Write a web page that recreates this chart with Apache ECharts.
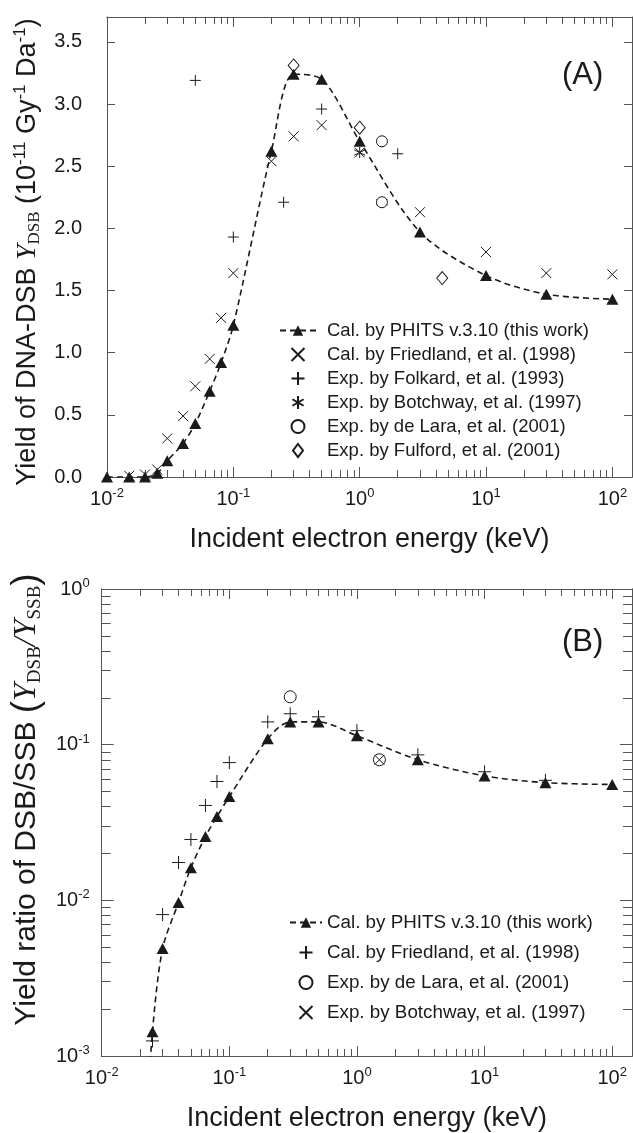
<!DOCTYPE html>
<html>
<head>
<meta charset="utf-8">
<script src="https://cdn.jsdelivr.net/npm/echarts@6/dist/echarts.min.js"></script>
<style>
  html, body { margin: 0; padding: 0; background: #fff; }
  #chart { width: 633px; height: 1133px; }
</style>
</head>
<body>
<div id="chart"></div>
<script>
// panel (A): yield of DNA-DSB, 10^-11 Gy^-1 Da^-1
var phitsEnergyA = [0.01, 0.015, 0.02, 0.025, 0.03, 0.04, 0.05, 0.065, 0.08, 0.1, 0.2, 0.3, 0.5, 1, 3, 10, 30, 100];
var phitsYieldA = [0, 0, 0, 0.03, 0.13, 0.27, 0.43, 0.69, 0.92, 1.22, 2.62, 3.24, 3.20, 2.70, 1.97, 1.62, 1.47, 1.43];
var friedlandEnergyA = [0.015, 0.02, 0.025, 0.03, 0.04, 0.05, 0.065, 0.08, 0.1, 0.2, 0.3, 0.5, 1, 3, 10, 30, 100];
var friedlandYieldA = [0.01, 0.02, 0.06, 0.31, 0.49, 0.73, 0.95, 1.28, 1.64, 2.54, 2.74, 2.83, 2.61, 2.13, 1.81, 1.64, 1.63];
var folkardEnergyA = [0.05, 0.1, 0.25, 0.5, 1.5, 2];
var folkardYieldA = [3.19, 1.93, 2.21, 2.96, 2.70, 2.60];
var botchwayEnergyA = [1, 1.5];
var botchwayYieldA = [2.61, 2.21];
var delaraEnergyA = [1.5, 1.5];
var delaraYieldA = [2.70, 2.21];
var fulfordEnergyA = [0.3, 1, 4.5];
var fulfordYieldA = [3.31, 2.81, 1.60];

// panel (B): ratio DSB/SSB
var phitsEnergyB = [0.02, 0.025, 0.03, 0.04, 0.05, 0.065, 0.08, 0.1, 0.2, 0.3, 0.5, 1, 3, 10, 30, 100];
var phitsRatioB = [0.0001, 0.00143, 0.0049, 0.0097, 0.0162, 0.0257, 0.0345, 0.0464, 0.109, 0.140, 0.140, 0.114, 0.080, 0.063, 0.057, 0.0555];
var friedlandEnergyB = [0.025, 0.03, 0.04, 0.05, 0.065, 0.08, 0.1, 0.2, 0.3, 0.5, 1, 3, 10, 30];
var friedlandRatioB = [0.00125, 0.0081, 0.0175, 0.0246, 0.0407, 0.058, 0.0767, 0.140, 0.158, 0.151, 0.123, 0.086, 0.067, 0.059];
var delaraEnergyB = [0.3, 1.5];
var delaraRatioB = [0.203, 0.080];
var botchwayEnergyB = [1.5];
var botchwayRatioB = [0.080];

// ticks
var xDecades = [0.01, 0.1, 1, 10, 100];
var yTicksA = [0, 0.5, 1, 1.5, 2, 2.5, 3, 3.5];
var yDecadesB = [0.001, 0.01, 0.1, 1];

var FONT = 'Liberation Sans';
var SERIF = 'Liberation Serif';
var INK = '#1a1a1a';
var AXIS = '#555';

function minorsOf(decades, last) {
    var out = [];
    decades.forEach(function (d) {
        for (var k = 2; k <= 9; k++) {
            var v = +(d * k).toPrecision(3);
            if (v <= last) out.push(v);
        }
    });
    return out;
}
var xMinor = minorsOf(xDecades, 143);
var yMinorB = minorsOf(yDecadesB, 1);

function pairs(xs, ys) {
    return xs.map(function (x, i) { return [x, ys[i]]; });
}
function powLabel(v) {
    var e = Math.round(Math.log(v) / Math.LN10);
    return '{b|10}{s|' + e + '}';
}
var powRich = {
    b: { fontSize: 20, fontFamily: FONT, color: INK, lineHeight: 24 },
    s: { fontSize: 13, fontFamily: FONT, color: INK, verticalAlign: 'top', lineHeight: 13 }
};

// a bare axis; callers switch on ticks / labels
function axis(extra) {
    var base = {
        axisLine: { show: true, onZero: false, lineStyle: { color: AXIS, width: 1 } },
        splitLine: { show: false },
        axisLabel: { show: false },
        axisTick: { show: false }
    };
    return Object.assign(base, extra);
}
function ticks(values, len) {
    return { show: true, inside: true, length: len, customValues: values, lineStyle: { color: AXIS, width: 1 } };
}

var xName = {
    name: 'Incident electron energy (keV)',
    nameLocation: 'middle',
    nameGap: 49,
    nameTextStyle: { fontSize: 27, fontFamily: FONT, color: INK }
};

function xAxesFor(grid) {
    var common = { type: 'log', logBase: 10, gridIndex: grid, min: 0.01, max: 143 };
    return [
        axis(Object.assign({}, common, xName, {
            position: 'bottom',
            axisTick: ticks(xDecades, 10),
            axisLabel: { show: true, margin: 10, customValues: xDecades, formatter: powLabel, rich: powRich }
        })),
        axis(Object.assign({}, common, { position: 'bottom', axisTick: ticks(xMinor, 7) })),
        axis(Object.assign({}, common, { position: 'top', axisTick: ticks(xDecades, 10) })),
        axis(Object.assign({}, common, { position: 'top', axisTick: ticks(xMinor, 7) }))
    ];
}

var yAxes = [
    axis({
        type: 'value', gridIndex: 0, position: 'left', min: 0, max: 3.7, interval: 0.5,
        axisTick: ticks(yTicksA, 8),
        axisLabel: {
            show: true, margin: 25, customValues: yTicksA, fontSize: 20, fontFamily: FONT, color: INK,
            formatter: function (v) { return v.toFixed(1); }
        },
        name: '{t|Yield of DNA-DSB }{i|Y}{sub|DSB}{t| (10}{sup|-11}{t| Gy}{sup|-1}{t| Da}{sup|-1}{t|)}',
        nameLocation: 'middle', nameRotate: 90, nameGap: 62,
        nameTextStyle: {
            padding: [0, 10, 0, 0],
            rich: {
                t: { fontSize: 27, fontFamily: FONT, color: INK, lineHeight: 31 },
                i: { fontSize: 28, fontFamily: SERIF, fontStyle: 'italic', color: INK, lineHeight: 31 },
                sub: { fontSize: 17, fontFamily: SERIF, color: INK, verticalAlign: 'bottom', lineHeight: 17 },
                sup: { fontSize: 17, fontFamily: FONT, color: INK, verticalAlign: 'top', lineHeight: 17 }
            }
        }
    }),
    axis({ type: 'value', gridIndex: 0, position: 'right', min: 0, max: 3.7, interval: 0.5, axisTick: ticks(yTicksA, 8) }),
    axis({
        type: 'log', logBase: 10, gridIndex: 1, position: 'left', min: 0.001, max: 1,
        axisTick: ticks(yDecadesB, 12),
        axisLabel: { show: true, margin: 12, customValues: yDecadesB, formatter: powLabel, rich: powRich },
        name: '{t|Yield ratio of DSB/SSB }{p|(}{i|Y}{sub|DSB}{s|/}{i|Y}{sub|SSB}{p|)}',
        nameLocation: 'middle', nameRotate: 90, nameGap: 54,
        nameTextStyle: {
            padding: [0, 0, 0, 46],
            rich: {
                t: { fontSize: 30, fontFamily: FONT, color: INK, lineHeight: 36 },
                s: { fontSize: 32, fontFamily: SERIF, fontStyle: 'italic', color: INK, lineHeight: 36 },
                p: { fontSize: 37, fontFamily: FONT, color: INK, lineHeight: 36 },
                i: { fontSize: 32, fontFamily: SERIF, fontStyle: 'italic', color: INK, lineHeight: 36 },
                sub: { fontSize: 19, fontFamily: SERIF, color: INK, verticalAlign: 'bottom', lineHeight: 19 }
            }
        }
    }),
    axis({ type: 'log', logBase: 10, gridIndex: 1, position: 'left', min: 0.001, max: 1, axisTick: ticks(yMinorB, 9) }),
    axis({ type: 'log', logBase: 10, gridIndex: 1, position: 'right', min: 0.001, max: 1, axisTick: ticks(yDecadesB, 12) }),
    axis({ type: 'log', logBase: 10, gridIndex: 1, position: 'right', min: 0.001, max: 1, axisTick: ticks(yMinorB, 9) })
];

var SYM = {
    cross: 'path://M0,0L10,10M10,0L0,10',
    plus: 'path://M5,0L5,10M0,5L10,5',
    star: 'path://M5,0L5,10M0.7,2.5L9.3,7.5M9.3,2.5L0.7,7.5',
    diamond: 'path://M5,0L10,6.5L5,13L0,6.5Z'
};
function marks(name, data, xi, yi, symbol, size, hollow) {
    return {
        type: 'scatter', name: name, data: data, xAxisIndex: xi, yAxisIndex: yi,
        symbol: symbol, symbolSize: size, clip: false,
        itemStyle: { color: hollow ? '#fff' : INK, borderColor: INK, borderWidth: 1, opacity: 1 },
        emphasis: { disabled: true }, z: 3
    };
}
function phitsLine(name, data, xi, yi) {
    return {
        type: 'line', name: name, data: data, xAxisIndex: xi, yAxisIndex: yi,
        smooth: 0.3, symbol: 'triangle', symbolSize: [12, 11], showAllSymbol: true, clip: true,
        lineStyle: { color: INK, width: 1.6, type: [6, 4] },
        itemStyle: { color: INK, borderWidth: 0 },
        emphasis: { disabled: true }, z: 4
    };
}

var nPhits = 'Cal. by PHITS v.3.10 (this work)';
var nFriedA = 'Cal. by Friedland, et al. (1998)';
var nFolkA = 'Exp. by Folkard, et al. (1993)';
var nBotchA = 'Exp. by Botchway, et al. (1997)';
var nLaraA = 'Exp. by de Lara, et al. (2001)';
var nFulfA = 'Exp. by Fulford, et al. (2001)';
// panel B reuses the labels with other markers, so give them distinct names
var nPhitsB = nPhits + ' ';
var nFriedB = nFriedA + ' ';
var nLaraB = nLaraA + ' ';
var nBotchB = nBotchA + ' ';

var legendText = { fontSize: 18.5, fontFamily: FONT, color: INK, lineHeight: 19 };

var option = {
    animation: false,
    backgroundColor: '#fff',
    grid: [
        { left: 107, top: 17, width: 525, height: 460 },
        { left: 100, top: 589, width: 532, height: 468 }
    ],
    xAxis: xAxesFor(0).concat(xAxesFor(1)),
    yAxis: yAxes,
    legend: [
        {
            orient: 'vertical', left: 274, top: 316, itemWidth: 36, itemHeight: 13, itemGap: 5,
            selectedMode: false, textStyle: Object.assign({}, legendText, { padding: [0, 0, 0, 6] }),
            data: [nPhits, nFriedA, nFolkA, nBotchA, nLaraA, nFulfA]
        },
        {
            orient: 'vertical', left: 284, top: 908, itemWidth: 32, itemHeight: 13, itemGap: 11,
            selectedMode: false, textStyle: Object.assign({}, legendText, { fontSize: 18.8 }),
            data: [nPhitsB, nFriedB, nLaraB, nBotchB]
        }
    ],
    graphic: [
        { type: 'text', left: 562, top: 60, style: { text: '(A)', font: '31px "Liberation Sans"', fill: INK } },
        { type: 'text', left: 562, top: 627, style: { text: '(B)', font: '31px "Liberation Sans"', fill: INK } }
    ],
    series: [
        marks(nFriedA, pairs(friedlandEnergyA, friedlandYieldA), 0, 0, SYM.cross, 10),
        marks(nFolkA, pairs(folkardEnergyA, folkardYieldA), 0, 0, SYM.plus, 11),
        marks(nBotchA, pairs(botchwayEnergyA, botchwayYieldA), 0, 0, SYM.star, 11),
        marks(nLaraA, pairs(delaraEnergyA, delaraYieldA), 0, 0, 'circle', 11, true),
        marks(nFulfA, pairs(fulfordEnergyA, fulfordYieldA), 0, 0, SYM.diamond, [11, 13], true),
        phitsLine(nPhits, pairs(phitsEnergyA, phitsYieldA), 0, 0),

        marks(nFriedB, pairs(friedlandEnergyB, friedlandRatioB), 4, 2, SYM.plus, 13),
        marks(nLaraB, pairs(delaraEnergyB, delaraRatioB), 4, 2, 'circle', 12, true),
        marks(nBotchB, pairs(botchwayEnergyB, botchwayRatioB), 4, 2, SYM.cross, 10),
        phitsLine(nPhitsB, pairs(phitsEnergyB, phitsRatioB), 4, 2)
    ]
};

var chart = echarts.init(document.getElementById('chart'), null, { renderer: 'canvas' });
chart.setOption(option);
</script>
</body>
</html>
